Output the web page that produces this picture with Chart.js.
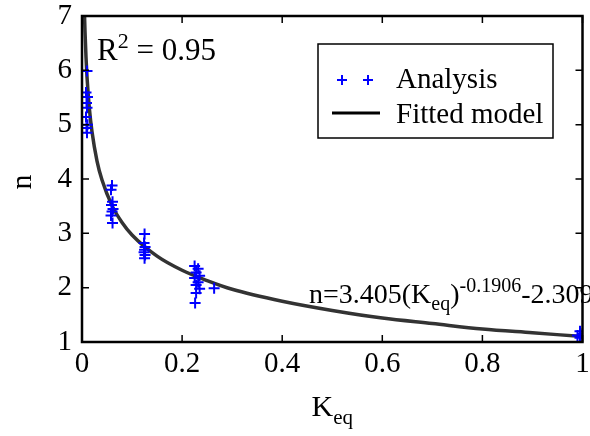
<!DOCTYPE html>
<html>
<head>
<meta charset="utf-8">
<script src="https://cdn.jsdelivr.net/npm/chart.js@4.4.0/dist/chart.umd.min.js"></script>
<style>
html, body { margin: 0; padding: 0; background: #fff; }
#wrap { width: 590px; height: 436px; }
</style>
</head>
<body>
<div id="wrap"><canvas id="grafico"></canvas></div>
<script>
var serieNomi = ['Analysis', 'Fitted model'];

// punti di analisi
var analisiK = [0.010, 0.008, 0.011, 0.009, 0.010, 0.008, 0.011, 0.009, 0.010,
    0.060, 0.058, 0.061, 0.059, 0.062, 0.060, 0.058, 0.061,
    0.125, 0.124, 0.126, 0.125, 0.124, 0.126, 0.125,
    0.225, 0.232, 0.228, 0.235, 0.225, 0.232, 0.228, 0.235, 0.228, 0.226, 0.264,
    0.995, 1.000, 0.990, 1.000, 0.995];
var analisiN = [5.99, 5.59, 5.51, 5.40, 5.31, 5.14, 5.00, 4.94, 4.85,
    3.88, 3.80, 3.58, 3.52, 3.45, 3.40, 3.33, 3.19,
    2.99, 2.82, 2.75, 2.70, 2.65, 2.60, 2.54,
    2.40, 2.35, 2.28, 2.22, 2.18, 2.10, 2.05, 1.98, 1.90, 1.72, 1.99,
    1.20, 1.15, 1.12, 1.10, 1.08];

// curva del modello
var modelloK = [0.0051, 0.006, 0.008, 0.01, 0.015, 0.02, 0.03, 0.04, 0.06, 0.08, 0.1, 0.15,
    0.2, 0.25, 0.3, 0.4, 0.5, 0.6, 0.7, 0.8, 0.9, 1.0];
var modelloN = [7.00, 6.72, 6.24, 5.88, 5.27, 4.87, 4.33, 3.98, 3.51, 3.20, 2.97, 2.58,
    2.32, 2.13, 1.97, 1.75, 1.58, 1.44, 1.34, 1.24, 1.17, 1.10];

var tickX = [0, 0.2, 0.4, 0.6, 0.8, 1];
var tickY = [1, 2, 3, 4, 5, 6, 7];

var FONT = "'Liberation Serif', 'Times New Roman', serif";

function punti(xs, ys) {
    var out = [];
    for (var i = 0; i < xs.length; i++) {
        out.push({ x: xs[i], y: ys[i] });
    }
    return out;
}

// scrive testo con pedici/apici
function testoRicco(ctx, parti, x, y, size) {
    for (var i = 0; i < parti.length; i++) {
        var p = parti[i];
        var s = p.s ? Math.round(size * 0.7) : size;
        var dy = p.s === 'sub' ? size * 0.25 : (p.s === 'sup' ? -size * 0.4 : 0);
        ctx.font = s + 'px ' + FONT;
        ctx.fillText(p.t, x, y + dy);
        x += ctx.measureText(p.t).width;
    }
    return x;
}

function larghezzaRicca(ctx, parti, size) {
    var w = 0;
    for (var i = 0; i < parti.length; i++) {
        var s = parti[i].s ? Math.round(size * 0.7) : size;
        ctx.font = s + 'px ' + FONT;
        w += ctx.measureText(parti[i].t).width;
    }
    return w;
}

var decorazioni = {
    id: 'decorazioni',
    afterDraw: function (chart) {
        var ctx = chart.ctx;
        var a = chart.chartArea;
        var sx = chart.scales.x;
        var sy = chart.scales.y;
        ctx.save();
        ctx.strokeStyle = '#000';
        ctx.lineWidth = 2.5;
        ctx.strokeRect(a.left, a.top, a.right - a.left, a.bottom - a.top);
        // tacche interne su tutti i lati
        ctx.lineWidth = 1.5;
        ctx.beginPath();
        tickX.forEach(function (v) {
            var px = sx.getPixelForValue(v);
            ctx.moveTo(px, a.bottom); ctx.lineTo(px, a.bottom - 7);
            ctx.moveTo(px, a.top); ctx.lineTo(px, a.top + 7);
        });
        tickY.forEach(function (v) {
            var py = sy.getPixelForValue(v);
            ctx.moveTo(a.left, py); ctx.lineTo(a.left + 7, py);
            ctx.moveTo(a.right, py); ctx.lineTo(a.right - 7, py);
        });
        ctx.stroke();

        ctx.fillStyle = '#000';
        ctx.textBaseline = 'alphabetic';
        ctx.textAlign = 'left';

        // titolo asse x
        var tx = [{ t: 'K' }, { t: 'eq', s: 'sub' }];
        var wx = larghezzaRicca(ctx, tx, 30);
        testoRicco(ctx, tx, (a.left + a.right) / 2 - wx / 2, 416, 30);

        // titolo asse y
        ctx.save();
        ctx.translate(31, (a.top + a.bottom) / 2 + 3);
        ctx.rotate(-Math.PI / 2);
        ctx.textAlign = 'center';
        ctx.font = '30px ' + FONT;
        ctx.fillText('n', 0, 0);
        ctx.restore();

        // R^2
        testoRicco(ctx, [{ t: 'R' }, { t: '2', s: 'sup' }, { t: ' = 0.95' }], 97, 60, 31);

        // equazione
        testoRicco(ctx, [{ t: 'n=3.405(K' }, { t: 'eq', s: 'sub' }, { t: ')' },
            { t: '-0.1906', s: 'sup' }, { t: '-2.309' }], 309, 303, 28);

        // legenda
        ctx.lineWidth = 1.5;
        ctx.strokeStyle = '#000';
        ctx.fillStyle = '#fff';
        ctx.fillRect(318, 44, 235, 94);
        ctx.strokeRect(318, 44, 235, 94);
        var ds0 = chart.data.datasets[0];
        ctx.strokeStyle = ds0.borderColor;
        ctx.lineWidth = 2;
        ctx.beginPath();
        [342, 368].forEach(function (cx) {
            ctx.moveTo(cx - 5, 80); ctx.lineTo(cx + 5, 80);
            ctx.moveTo(cx, 75); ctx.lineTo(cx, 85);
        });
        ctx.stroke();
        ctx.strokeStyle = '#000';
        ctx.lineWidth = 3;
        ctx.beginPath();
        ctx.moveTo(332, 113); ctx.lineTo(380, 113);
        ctx.stroke();
        ctx.fillStyle = '#000';
        ctx.font = '29px ' + FONT;
        ctx.fillText(serieNomi[0], 396, 88);
        ctx.fillText(serieNomi[1], 396, 123);
        ctx.restore();
    }
};

var ctx = document.getElementById('grafico');
var chart = new Chart(ctx, {
    type: 'scatter',
    data: {
        datasets: [{
            label: serieNomi[0],
            data: punti(analisiK, analisiN),
            pointStyle: 'cross',
            pointRadius: 5.5,
            pointBorderWidth: 2,
            borderColor: '#0000ff',
            backgroundColor: '#0000ff',
            showLine: false,
            order: 1
        }, {
            label: serieNomi[1],
            type: 'line',
            data: punti(modelloK, modelloN),
            borderColor: '#333333',
            borderWidth: 3.5,
            pointRadius: 0,
            fill: false,
            cubicInterpolationMode: 'monotone',
            order: 2
        }]
    },
    options: {
        responsive: true,
        maintainAspectRatio: false,
        animation: false,
        devicePixelRatio: 1,
        layout: { padding: { top: 16, right: 2, left: 0, bottom: 0 } },
        plugins: {
            legend: { display: false },
            tooltip: { enabled: false }
        },
        scales: {
            x: {
                type: 'linear',
                min: 0,
                max: 1,
                afterBuildTicks: function (s) {
                    s.ticks = tickX.map(function (v) { return { value: v }; });
                },
                afterFit: function (s) {
                    s.height = 94;
                    s.paddingLeft = 0;
                    s.paddingRight = 0;
                },
                grid: { display: false },
                border: { display: false },
                ticks: {
                    color: '#000',
                    padding: -3,
                    maxRotation: 0,
                    font: { family: FONT, size: 29 },
                    callback: function (v) { return String(v); }
                }
            },
            y: {
                type: 'linear',
                min: 1,
                max: 7,
                afterBuildTicks: function (s) {
                    s.ticks = tickY.map(function (v) { return { value: v }; });
                },
                afterFit: function (s) {
                    s.width = 82;
                    s.paddingTop = 0;
                    s.paddingBottom = 0;
                },
                grid: { display: false },
                border: { display: false },
                ticks: {
                    color: '#000',
                    padding: 2,
                    font: { family: FONT, size: 29 },
                    callback: function (v) { return String(v); }
                }
            }
        }
    },
    plugins: [decorazioni]
});
</script>
</body>
</html>
